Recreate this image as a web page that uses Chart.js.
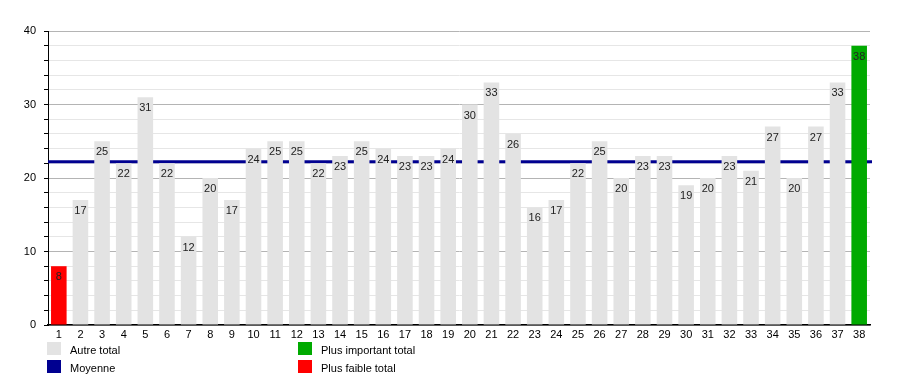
<!DOCTYPE html>
<html>
<head>
<meta charset="utf-8">
<script src="https://cdn.jsdelivr.net/npm/chart.js@4/dist/chart.umd.min.js"></script>
<style>
    body { margin: 0; background: #fff; }
    #wrap { position: relative; width: 900px; height: 375px; }
    .leg { position: absolute; font: 11px "Liberation Sans", Arial, sans-serif; color: #000; }
    .leg span { position: absolute; width: 14px; height: 13px; left: 0; top: 0; }
    .leg b { position: absolute; left: 23px; top: 1px; line-height: 14px; font-weight: normal; white-space: nowrap; }
</style>
</head>
<body>
<div id="wrap">
    <canvas id="chart" width="900" height="375"></canvas>
    <div class="leg" style="left:47px;top:342px"><span style="background:#e3e3e3"></span><b>Autre total</b></div>
    <div class="leg" style="left:47px;top:360px"><span style="background:#000090"></span><b>Moyenne</b></div>
    <div class="leg" style="left:298px;top:342px"><span style="background:#00aa00"></span><b>Plus important total</b></div>
    <div class="leg" style="left:298px;top:360px"><span style="background:#ff0000"></span><b>Plus faible total</b></div>
</div>
<script>
const labels = []
for (let i = 1; i <= 38; i++) labels.push(String(i))

const totals = [8, 17, 25, 22, 31, 22, 12, 20, 17, 24, 25, 25, 22, 23, 25, 24, 23, 23, 24, 30,
    33, 26, 16, 17, 22, 25, 20, 23, 23, 19, 20, 23, 21, 27, 20, 27, 33, 38]

const moyenne = 22.2

const GRAY = "#e3e3e3"
const GREEN = "#00aa00"
const RED = "#ff0000"
const NAVY = "#000090"
const FONT = "'Liberation Sans', Arial, sans-serif"

const maxVal = Math.max(...totals)
const minVal = Math.min(...totals)

const barColors = totals.map((v) => {
    if (v === maxVal) return GREEN
    if (v === minVal) return RED
    return GRAY
})

// mean line behind the bars
const meanLine = {
    id: "meanLine",
    beforeDatasetsDraw(chart) {
        const { ctx, chartArea, scales } = chart
        const y = scales.y.getPixelForValue(moyenne)
        ctx.save()
        ctx.strokeStyle = NAVY
        ctx.lineWidth = 3
        ctx.beginPath()
        ctx.moveTo(chartArea.left, y)
        ctx.lineTo(chartArea.right + 2, y)
        ctx.stroke()
        ctx.restore()
    },
}

// values written inside the top of each bar
const valueLabels = {
    id: "valueLabels",
    afterDatasetsDraw(chart) {
        const { ctx } = chart
        const meta = chart.getDatasetMeta(0)
        ctx.save()
        ctx.font = "11px " + FONT
        ctx.fillStyle = "#222"
        ctx.textAlign = "center"
        ctx.textBaseline = "middle"
        meta.data.forEach((bar, i) => {
            ctx.fillText(String(totals[i]), bar.x, bar.y + 11)
        })
        ctx.restore()
    },
}

Chart.defaults.font.family = FONT
Chart.defaults.font.size = 11
Chart.defaults.color = "#000"

new Chart(document.getElementById("chart"), {
    type: "bar",
    data: {
        labels: labels,
        datasets: [
            {
                data: totals,
                backgroundColor: barColors,
                barPercentage: 0.72,
                categoryPercentage: 1,
            },
        ],
    },
    options: {
        responsive: false,
        animation: false,
        layout: { padding: { left: 0, right: 30, top: 31, bottom: 34 } },
        plugins: {
            legend: { display: false },
            tooltip: { enabled: false },
        },
        scales: {
            x: {
                afterFit: (scale) => { scale.height = 16 },
                grid: { display: false, drawTicks: false },
                border: { color: "#000", width: 1.5 },
                ticks: { padding: 3, maxRotation: 0, autoSkip: false },
            },
            y: {
                min: 0,
                max: 40,
                afterFit: (scale) => { scale.width = 48 },
                border: { color: "#000", width: 1 },
                grid: {
                    tickLength: 4,
                    tickColor: "#000",
                    color: (ctx) => (ctx.tick.value % 10 === 0 ? "#b4b4b4" : "#e6e6e6"),
                },
                ticks: {
                    stepSize: 2,
                    autoSkip: false,
                    maxTicksLimit: 50,
                    padding: 8,
                    callback: (v) => (v % 10 === 0 ? v : ""),
                },
            },
        },
    },
    plugins: [meanLine, valueLabels],
})
</script>
</body>
</html>
